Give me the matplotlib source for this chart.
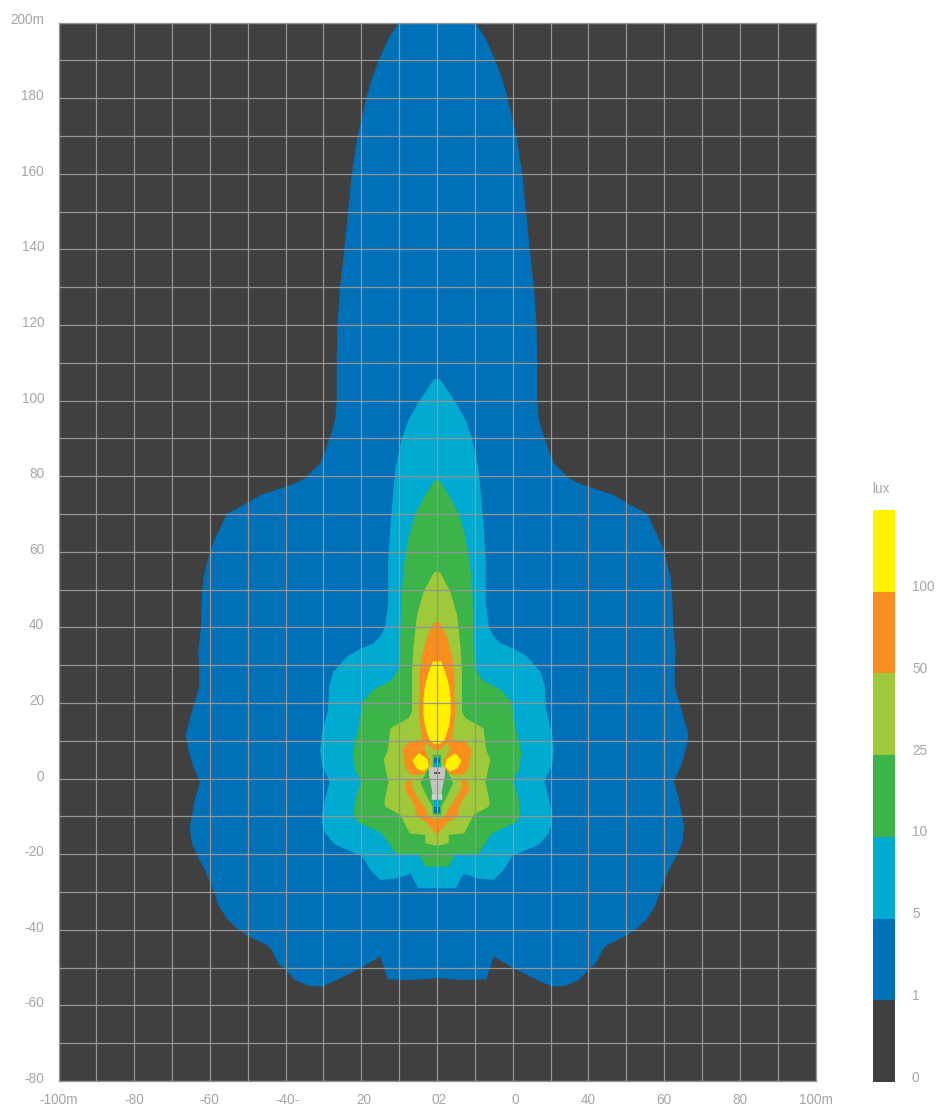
import matplotlib
matplotlib.use("Agg")
import matplotlib.pyplot as plt
from matplotlib.transforms import ScaledTranslation

# ---- contour half-outlines (metres): half width, distance along beam ----
lux1_x = [0, 7, 13, 15, 19.9, 26.5, 30.4, 34, 37.5, 40, 42, 43.7, 45, 50, 52.9, 55.6, 57.8, 58.9, 61.3, 63, 64.8, 65.3, 63.9, 62.6,
          64.4, 65.7, 66.4, 64.4, 62.8, 62.8, 63.1, 62.4, 62.2, 61.7, 60, 58.6, 57.3, 55.6, 50, 46.7, 40, 37, 34.8, 32.6, 30.9, 30,
          28.4, 26.9, 26.5, 26.5, 26.5, 26.3, 25.6, 24.5, 23.5, 22.5, 21, 19.8, 18.7, 17.2, 15.4, 12.8, 10.1, 0]
lux1_y = [-52.8, -53.3, -53.1, -47.1, -50, -53.3, -55, -54.8, -53.3, -50.6, -48.9, -45.3, -44, -41.6, -39.6, -37, -33.4, -30, -24.2, -21, -17.1, -12.7, -5.2, -0.9,
          3.2, 7.6, 11.6, 19, 24.3, 28.7, 33.2, 40, 47.3, 53.4, 60, 63.6, 66.2, 70, 73, 75, 77.2, 78.3, 79.5, 81.7, 83.3, 85.6,
          90, 94.9, 100, 108, 110, 120, 130, 140, 150, 160, 169.8, 175, 179.9, 185.2, 190, 195.8, 200, 200]

lux5_x = [0, 5, 7, 10.6, 15, 17.6, 19.9, 26.9, 29.5, 30.4, 30.4, 29.5, 28.4, 30.4, 30.9, 30.4, 28.8, 28.5, 27.2, 26.9, 23.8, 19.9, 16.8, 15, 13.7,
          12.9, 12.9, 12.2, 11, 9.3, 7.5, 5.3, 0.9, 0]
lux5_y = [-29, -29, -25.2, -26.4, -26.8, -24.2, -20.5, -17.5, -14.5, -11.8, -9.2, -5.2, -0.9, 3.6, 7.6, 12, 18.2, 24.3, 28.7, 28.7, 32.3, 34.5, 35.8, 37.6, 40.2,
          46.4, 57.8, 68.4, 81.7, 90, 94.9, 98.9, 105.5, 105.7]

lux10_x = [0, 3.1, 4.6, 11, 14.6, 21.2, 22, 21.6, 20.1, 21.6, 22.3, 20.7, 19.6, 16.8, 11.9, 10.4, 10, 9.7, 9.4, 8.8, 7.5, 5.7, 3.1, 0.9, 0]
lux10_y = [-23.3, -23.3, -20.2, -19.8, -14.5, -11.4, -9.2, -5.6, -0.5, 2.3, 6.7, 13.8, 20.4, 23.5, 26.1, 28.7, 28.7, 38.4, 48.1, 56, 64, 70.2, 75, 78.6, 79]

lux25_x = [0, 3.1, 3.1, 7.2, 9.7, 13.7, 13.9, 12.8, 14.1, 13, 12.3, 7.5, 6.6, 6.6, 6.2, 5.3, 3.5, 0.9, 0]
lux25_y = [-17.8, -17.1, -14.9, -14.5, -9.6, -7.4, -6.1, -0.9, 4.9, 7.6, 13.3, 16, 17.7, 28.7, 34.9, 43.3, 49.5, 54.4, 54.8]

lux50_top_x = [0, 0.8, 2.7, 3.4, 2.4, 1.7, 2.6, 4.3, 7, 8.3, 9.2, 7.4, 4.8, 3.9, 4.8, 4.8, 4.6, 4.6, 4, 2.6, 1, 0]
lux50_top_y = [7.6, 7.6, 9.3, 8, 5.8, 4.5, 1.6, 1, 1, 2.7, 7.6, 9.8, 10.2, 10.7, 16.4, 20, 21.7, 28.7, 32.3, 37.6, 41, 41.5]

lux50_low_x = [0, 0.4, 2.6, 5.3, 6.2, 8.6, 7.9, 6.6, 6.6, 5.3, 3.4, 2.1, 0]
lux50_low_y = [-14.5, -14.5, -11.8, -10, -6.5, -3, -0.4, 0.1, -2.1, -4.8, -7.4, -10, -10.9]

lux100_x = [0, 0.8, 1.9, 2.6, 3.2, 3.6, 3.6, 3.2, 2.3, 1.1, 0]
lux100_y = [9.2, 9.2, 10, 12, 14, 17, 21, 24.5, 27.8, 31, 31]

lobe_x = [2.6, 4.8, 6.5, 5.4, 3.4, 2.1]
lobe_y = [5.2, 6.7, 4.8, 2.7, 1.9, 3.2]

hole_x = [0, 1.1, 1.2, 2.6, 4.3, 2.6, 1.1, 1.1, 0]
hole_y = [-9.6, -9.6, -7.4, -4.8, -1.2, 2.2, 3.0, 6.3, 6.3]

strip_top_x = [0, 0.8, 0.8, 0]
strip_top_y = [2, 2, 5.4, 5.4]
strip_low_x = [0, 0.9, 0.9, 0]
strip_low_y = [-9.1, -9.1, -4, -4]
strip_mid_x = [0, 0.9, 0.9, 0]
strip_mid_y = [-7.6, -7.6, -5.4, -5.4]
strip_tip_x = [0, 0.8, 0.8, 0]
strip_tip_y = [4.2, 4.2, 2.6, 2.6]

body_x = [0, 1.2, 1.5, 2.1, 2.1, 1.9, 0]
body_y = [-3.9, -3.9, -2.2, 0.9, 2.9, 3.0, 3.0]
foot_x = [0, 1.4, 1.4, 1.2, 0]
foot_y = [-5.6, -5.6, -4.7, -3.9, -3.9]
head_x = [0, 0.7, 0.7, 0]
head_y = [1.1, 1.1, 1.7, 1.7]

xticks_major = list(range(-100, 101, 20))
xticks_minor = list(range(-90, 100, 20))
yticks_major = list(range(-80, 201, 20))
yticks_minor = list(range(-70, 200, 20))
x_labels = ["-100m", "-80", "-60", "-40-", "20", "02", "0", "40", "60", "80", "100m"]
y_labels = ["-80", "-60", "-40", "-20", "0", "20", "40", "60", "80", "100", "120", "140", "160", "180", "200m"]
x_label_nudge = [0, 0, -1, 2, 3, 2, 3, 0, 0, 0, 0]

lux_labels = ["0", "1", "5", "10", "25", "50", "100"]
lux_colors = ["#404040", "#0070b8", "#00aad0", "#3cb44a", "#9ec93a", "#f78e1e", "#fff100"]

TEXT = "#a6a6a6"
GRID = "#959595"
FS = 9.8
W, H = 940, 1108

plt.rcParams["font.family"] = ["Liberation Sans", "DejaVu Sans"]
fig = plt.figure(figsize=(W / 100, H / 100), dpi=100, facecolor="white")
ax = fig.add_axes([58.5 / W, (H - 1081) / H, 757 / W, 1058.5 / H])
ax.set_xlim(-100, 100)
ax.set_ylim(-80, 200)
ax.set_facecolor(lux_colors[0])


def band(xs, ys, color):
    ax.fill(list(xs) + [-v for v in reversed(xs)], list(ys) + list(reversed(ys)),
            color=color, lw=0, zorder=1)


def side(xs, ys, color):
    ax.fill(xs, ys, color=color, lw=0, zorder=1)
    ax.fill([-v for v in xs], ys, color=color, lw=0, zorder=1)


band(lux1_x, lux1_y, lux_colors[1])
band(lux5_x, lux5_y, lux_colors[2])
band(lux10_x, lux10_y, lux_colors[3])
band(lux25_x, lux25_y, lux_colors[4])
band(lux50_top_x, lux50_top_y, lux_colors[5])
band(lux50_low_x, lux50_low_y, lux_colors[5])
band(lux100_x, lux100_y, lux_colors[6])
side(lobe_x, lobe_y, lux_colors[6])
band(hole_x, hole_y, lux_colors[3])
band(strip_top_x, strip_top_y, lux_colors[1])
band(strip_tip_x, strip_tip_y, lux_colors[2])
band(strip_low_x, strip_low_y, lux_colors[1])
band(strip_mid_x, strip_mid_y, lux_colors[2])
band(foot_x, foot_y, "#d0d0d0")
band(body_x, body_y, "#c4c4c4")
band(head_x, head_y, "#5a5a5a")

ax.set_xticks(xticks_major, labels=x_labels)
ax.set_xticks(xticks_minor, minor=True)
ax.set_yticks(yticks_major, labels=y_labels)
ax.set_yticks(yticks_minor, minor=True)
ax.set_axisbelow(False)
ax.grid(True, which="both", color=GRID, lw=0.9)
ax.tick_params(which="both", length=0)
ax.tick_params(axis="x", pad=8.5, labelsize=FS, labelcolor=TEXT)
ax.tick_params(axis="y", pad=10.4, labelsize=FS, labelcolor=TEXT)
for s in ax.spines.values():
    s.set_color(GRID)
    s.set_linewidth(0.9)
    s.set_zorder(3)

for lab, dx in zip(ax.get_xticklabels(), x_label_nudge):
    lab.set_transform(lab.get_transform() + ScaledTranslation(dx / 100, 0, fig.dpi_scale_trans))
for lab in ax.get_yticklabels():
    lab.set_transform(lab.get_transform() + ScaledTranslation(0, 3.5 / 100, fig.dpi_scale_trans))

# colour scale
cax = fig.add_axes([873 / W, (H - 1082) / H, 22 / W, 572 / H])
for i, c in enumerate(lux_colors):
    cax.bar(0.5, 1, width=1, bottom=i, color=c, lw=0)
cax.set_xlim(0, 1)
cax.set_ylim(0, len(lux_colors))
cax.axis("off")
for i, t in enumerate(lux_labels):
    cax.annotate(t, (1, i), xytext=(17, 4.5), textcoords="offset pixels", ha="left", va="center",
                 fontsize=FS, color=TEXT, annotation_clip=False)
cax.annotate("lux", (0, len(lux_labels)), xytext=(-1, 21), textcoords="offset pixels", ha="left", va="center",
             fontsize=FS, color=TEXT, annotation_clip=False)

fig.savefig("out.png", dpi=100, facecolor="white")
